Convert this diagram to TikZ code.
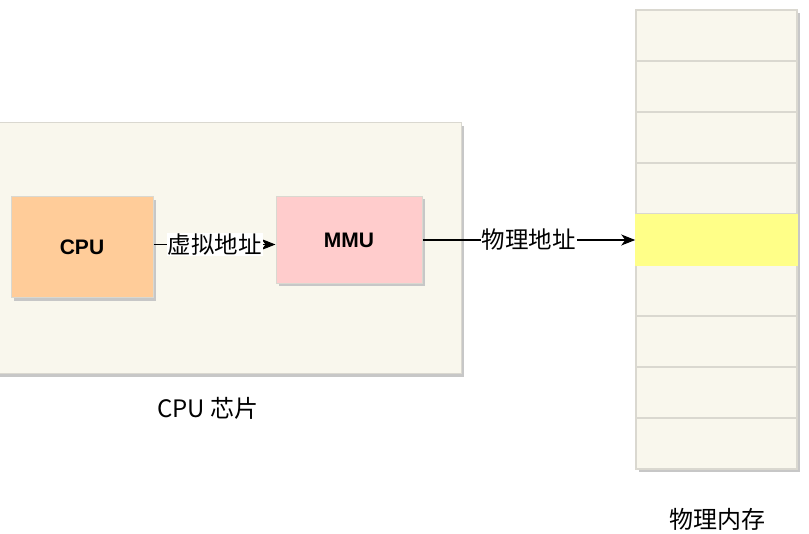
\documentclass[tikz,border=0pt]{standalone}
\usepackage{fontspec}
\setmainfont{Liberation Sans}
\newfontfamily\cjk{Noto Sans CJK SC}
\usetikzlibrary{arrows.meta,shadows}
\definecolor{chipbg}{RGB}{249,247,237}
\definecolor{cpufill}{RGB}{255,204,153}
\definecolor{mmufill}{RGB}{255,204,204}
\definecolor{hitfill}{RGB}{255,255,136}
\definecolor{rim}{RGB}{218,216,208}
\tikzset{
  sketchbox/.style={draw=rim, line width=1pt, inner sep=0pt,
    drop shadow={shadow xshift=3pt, shadow yshift=-3pt, fill=black!22, opacity=1}},
  unit/.style={sketchbox, font=\fontsize{21}{24}\selectfont\bfseries},
  cell/.style={draw=rim, line width=1.5pt, fill=chipbg, minimum width=161pt, minimum height=51pt},
  tag/.style={font=\cjk\fontsize{23.5}{26}\selectfont, fill=white, inner sep=1pt},
  link/.style={line width=1.2pt, -{Stealth[length=14pt, width=11pt, inset=4pt]}}
}
\begin{document}
\begin{tikzpicture}[x=1pt,y=-1pt]
\useasboundingbox (0,0) rectangle (809,534);
% chip
\node[sketchbox, fill=chipbg, minimum width=471pt, minimum height=251pt] (chip) at (225.5,248.5) {};
\node[font=\cjk\fontsize{24}{28}\selectfont] (chiplabel) at (208,408) {CPU 芯片};
% cpu and mmu
\node[unit, fill=cpufill, minimum width=142pt, minimum height=101pt] (cpu) at (82,247.5) {CPU};
\node[unit, fill=mmufill, minimum width=146pt, minimum height=87pt] (mmu) at (349,240) {MMU};
% memory
\fill[black!22] (639,13) rectangle (800,472);
\foreach \i in {0,...,8}{
  \node[cell] (cell\i) at (716.5,35.5+51*\i) {};
}
\node[cell, fill=hitfill, draw=hitfill] (cell4) at (716.5,240) {};
\node[font=\cjk\fontsize{24}{28}\selectfont] (memlabel) at (717,519) {物理内存};
% addresses
\draw[link] ([yshift=3pt]cpu.east) -- ([yshift=3pt]cpu.east -| mmu.west)
  node[tag, midway] (vaddr) {虚拟地址};
\draw[link] (mmu) -- (cell4) node[tag, midway] (paddr) {物理地址};
\end{tikzpicture}
\end{document}
